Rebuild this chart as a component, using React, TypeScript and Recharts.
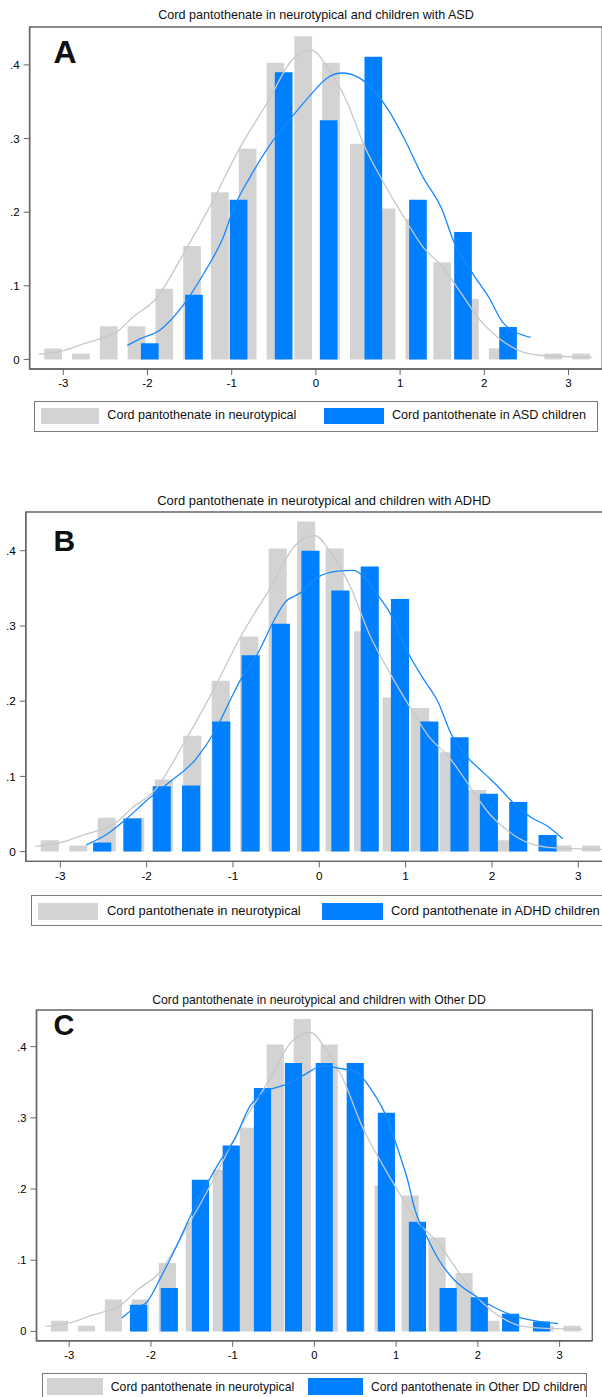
import React from "react";
import { Bar, ComposedChart, Line, ReferenceArea, XAxis, YAxis } from "recharts";

const FONT = '"Liberation Sans", Arial, Helvetica, sans-serif';
const GREY_BAR = "#d3d3d3";
const BLUE_BAR = "#0080ff";
const GREY_LINE = "#c8c8c8";
const BLUE_LINE = "#1689ff";
const FRAME = "#666666";

// neurotypical histogram + kernel density (same in all three panels)
const neuroBins = [-3.12, -2.79, -2.46, -2.13, -1.8, -1.47, -1.14, -0.81, -0.48, -0.15, 0.18, 0.51, 0.84, 1.17, 1.5, 1.83, 2.16, 2.49, 2.82, 3.15];
const neuroDensity = [0.015, 0.008, 0.045, 0.045, 0.096, 0.154, 0.227, 0.286, 0.403, 0.439, 0.403, 0.293, 0.205, 0.191, 0.132, 0.082, 0.015, 0, 0.008, 0.008];
const neuroKdeX = [-3.29, -3.0, -2.76, -2.57, -2.37, -2.17, -1.91, -1.56, -1.24, -0.92, -0.56, -0.28, -0.05, 0.13, 0.36, 0.58, 0.81, 1.04, 1.27, 1.5, 1.73, 1.95, 2.18, 2.46, 2.73, 3.28];
const neuroKdeY = [0.007, 0.012, 0.021, 0.028, 0.037, 0.058, 0.081, 0.146, 0.212, 0.284, 0.352, 0.407, 0.42, 0.398, 0.352, 0.289, 0.239, 0.194, 0.153, 0.126, 0.089, 0.053, 0.028, 0.01, 0.005, 0.003];

// ASD
const asdBins = [-1.97, -1.445, -0.915, -0.38, 0.155, 0.685, 1.215, 1.75, 2.285];
const asdDensity = [0.022, 0.088, 0.217, 0.39, 0.325, 0.411, 0.217, 0.173, 0.044];
const asdKdeX = [-2.24, -2.09, -1.85, -1.56, -1.33, -1.1, -0.97, -0.78, -0.56, -0.28, -0.05, 0.13, 0.31, 0.52, 0.68, 0.86, 1.04, 1.27, 1.5, 1.63, 1.86, 2.05, 2.23, 2.55];
const asdKdeY = [0.019, 0.028, 0.04, 0.076, 0.117, 0.166, 0.207, 0.248, 0.289, 0.33, 0.361, 0.382, 0.389, 0.382, 0.366, 0.339, 0.302, 0.248, 0.203, 0.162, 0.117, 0.085, 0.049, 0.03];

// ADHD
const adhdBins = [-2.52, -2.17, -1.83, -1.49, -1.14, -0.8, -0.45, -0.107, 0.24, 0.58, 0.93, 1.27, 1.62, 1.96, 2.3, 2.64];
const adhdDensity = [0.012, 0.044, 0.087, 0.088, 0.173, 0.261, 0.303, 0.4, 0.347, 0.379, 0.336, 0.173, 0.152, 0.077, 0.066, 0.022];
const adhdKdeX = [-2.7, -2.46, -2.23, -2.01, -1.74, -1.43, -1.21, -1.03, -0.89, -0.72, -0.54, -0.4, -0.22, 0.0, 0.22, 0.4, 0.49, 0.67, 0.83, 1.03, 1.21, 1.38, 1.52, 1.72, 1.92, 2.1, 2.28, 2.46, 2.64, 2.82];
const adhdKdeY = [0.009, 0.023, 0.044, 0.067, 0.092, 0.123, 0.16, 0.202, 0.233, 0.262, 0.304, 0.331, 0.344, 0.366, 0.373, 0.374, 0.368, 0.342, 0.315, 0.264, 0.229, 0.198, 0.158, 0.125, 0.103, 0.083, 0.061, 0.045, 0.034, 0.017];

// Other DD
const ddBins = [-2.155, -1.778, -1.397, -1.02, -0.638, -0.259, 0.118, 0.497, 0.878, 1.258, 1.634, 2.015, 2.398, 2.776];
const ddDensity = [0.0375, 0.061, 0.213, 0.261, 0.342, 0.377, 0.377, 0.377, 0.307, 0.154, 0.061, 0.048, 0.025, 0.014];
const ddKdeX = [-2.355, -2.2, -2.06, -1.875, -1.69, -1.5, -1.31, -1.145, -0.98, -0.79, -0.6, -0.37, -0.13, 0.1, 0.29, 0.53, 0.67, 0.86, 1.05, 1.14, 1.23, 1.375, 1.52, 1.705, 1.94, 2.18, 2.46, 2.74, 2.98];
const ddKdeY = [0.019, 0.033, 0.04, 0.077, 0.119, 0.166, 0.208, 0.241, 0.269, 0.316, 0.337, 0.346, 0.36, 0.373, 0.37, 0.363, 0.344, 0.307, 0.246, 0.213, 0.171, 0.133, 0.101, 0.073, 0.052, 0.035, 0.021, 0.014, 0.011];

const xTicks = [-3, -2, -1, 0, 1, 2, 3];
const yTicks = [0, 0.1, 0.2, 0.3, 0.4];
const yTickLabels = ["0", ".1", ".2", ".3", ".4"];

const X_DOMAIN: [number, number] = [-3.4, 3.4];
const Y_DOMAIN: [number, number] = [-0.013, 0.4515];

const toRows = (xs: number[], ys: number[]) => xs.map((x, i) => ({ x, y: ys[i] }));
const neuroRows = toRows(neuroBins, neuroDensity);
const neuroKde = toRows(neuroKdeX, neuroKdeY);

const W = 640;
const MT = 4;
const XH = 28;

function Txt({ x, base, size, children, bold, center }: any) {
  return (
    <div
      style={{
        position: "absolute",
        left: center ? x - 300 : x,
        width: center ? 600 : undefined,
        textAlign: center ? "center" : "left",
        top: base - 0.8465 * size,
        fontSize: size,
        lineHeight: `${size}px`,
        fontWeight: bold ? 700 : 400,
        whiteSpace: "nowrap",
        color: "#111",
      }}
    >
      {children}
    </div>
  );
}

function Panel(p: any) {
  const top = p.plotTop - MT;
  const height = p.plotBottom - top + XH;
  const unit = (p.plotRight - p.plotLeft) / (X_DOMAIN[1] - X_DOMAIN[0]);
  const s = unit / 84.2;
  const barW = 0.21 * unit;
  const mRight = W - p.plotRight;
  const baseMargin = { top: MT, right: mRight, bottom: 0, left: 0 };
  const overMargin = { top: MT, right: mRight, bottom: XH, left: p.plotLeft };
  const layer: React.CSSProperties = { position: "absolute", left: 0, top };
  const blueRows = toRows(p.bins, p.density);
  const blueKde = toRows(p.kdeX, p.kdeY);
  const tickStyle = { fill: "#000", fontSize: 11.5 * s, fontFamily: FONT };
  const lg = p.legend;
  const fs = 12.6 * s;

  return (
    <>
      <div style={layer}>
        <ComposedChart width={W} height={height} data={neuroRows} margin={baseMargin}>
          <XAxis
            type="number"
            dataKey="x"
            domain={X_DOMAIN}
            allowDataOverflow
            ticks={xTicks}
            height={XH}
            tickSize={6}
            tickMargin={4}
            tick={tickStyle}
            tickLine={{ stroke: FRAME }}
            axisLine={{ stroke: FRAME, strokeWidth: 1.4 }}
          />
          <YAxis
            type="number"
            domain={Y_DOMAIN}
            allowDataOverflow
            ticks={yTicks}
            tickFormatter={(v: number) => yTickLabels[yTicks.indexOf(v)]}
            width={p.plotLeft}
            tickSize={6}
            tickMargin={4}
            tick={tickStyle}
            tickLine={{ stroke: FRAME }}
            axisLine={{ stroke: FRAME, strokeWidth: 1.4 }}
          />
          <ReferenceArea
            x1={X_DOMAIN[0]}
            x2={X_DOMAIN[1]}
            y1={Y_DOMAIN[0]}
            y2={Y_DOMAIN[1]}
            fill="none"
            stroke={FRAME}
            strokeWidth={1.4}
            fillOpacity={0}
          />
          <Bar dataKey="y" fill={GREY_BAR} barSize={barW} isAnimationActive={false} />
        </ComposedChart>
      </div>
      <div style={layer}>
        <ComposedChart width={W} height={height} data={blueRows} margin={overMargin}>
          <XAxis type="number" dataKey="x" domain={X_DOMAIN} allowDataOverflow hide />
          <YAxis type="number" domain={Y_DOMAIN} allowDataOverflow hide />
          <Bar dataKey="y" fill={BLUE_BAR} barSize={barW} isAnimationActive={false} />
        </ComposedChart>
      </div>
      <div style={layer}>
        <ComposedChart width={W} height={height} margin={overMargin}>
          <XAxis type="number" dataKey="x" domain={X_DOMAIN} allowDataOverflow hide />
          <YAxis type="number" domain={Y_DOMAIN} allowDataOverflow hide />
          <Line data={neuroKde} dataKey="y" type="monotone" stroke={GREY_LINE} strokeWidth={1.3} dot={false} isAnimationActive={false} />
          <Line data={blueKde} dataKey="y" type="monotone" stroke={BLUE_LINE} strokeWidth={1.3} dot={false} isAnimationActive={false} />
        </ComposedChart>
      </div>

      <Txt x={p.titleX} base={p.titleBase} size={fs} center>
        {p.title}
      </Txt>
      <Txt x={53.5} base={p.letterBase} size={p.letterSize} bold>
        {p.letter}
      </Txt>

      <div
        style={{
          position: "absolute",
          left: lg.left,
          top: lg.top,
          width: lg.right - lg.left,
          height: lg.bottom - lg.top,
          border: "1.2px solid #7a7a7a",
          boxSizing: "border-box",
        }}
      />
      <div style={{ position: "absolute", left: lg.grey[0], top: lg.keyTop, width: lg.grey[1] - lg.grey[0], height: lg.keyBottom - lg.keyTop, background: GREY_BAR }} />
      <div style={{ position: "absolute", left: lg.blue[0], top: lg.keyTop, width: lg.blue[1] - lg.blue[0], height: lg.keyBottom - lg.keyTop, background: BLUE_BAR }} />
      <Txt x={lg.greyText} base={lg.textBase} size={fs}>
        Cord pantothenate in neurotypical
      </Txt>
      <Txt x={lg.blueText} base={lg.textBase} size={fs}>
        {p.blueLabel}
      </Txt>
    </>
  );
}

export default function App() {
  return (
    <div
      style={{
        position: "absolute",
        left: 0,
        top: 0,
        width: 602,
        height: 1397,
        overflow: "hidden",
        background: "#fff",
        fontFamily: FONT,
      }}
    >
      <Panel
        letter="A"
        letterBase={63.3}
        letterSize={32}
        title="Cord pantothenate in neurotypical and children with ASD"
        titleX={316}
        titleBase={20}
        plotLeft={29.6}
        plotTop={27}
        plotRight={602.2}
        plotBottom={369}
        bins={asdBins}
        density={asdDensity}
        kdeX={asdKdeX}
        kdeY={asdKdeY}
        blueLabel="Cord pantothenate in ASD children"
        legend={{ left: 33.5, top: 400.7, right: 598, bottom: 432, grey: [40.7, 99.3], blue: [324, 383.5], keyTop: 408.3, keyBottom: 424.3, textBase: 420, greyText: 107.3, blueText: 392 }}
      />
      <Panel
        letter="B"
        letterBase={551.7}
        letterSize={30}
        title="Cord pantothenate in neurotypical and children with ADHD"
        titleX={324}
        titleBase={506}
        plotLeft={25.8}
        plotTop={512.3}
        plotRight={612.8}
        plotBottom={861.7}
        bins={adhdBins}
        density={adhdDensity}
        kdeX={adhdKdeX}
        kdeY={adhdKdeY}
        blueLabel="Cord pantothenate in ADHD children"
        legend={{ left: 30.8, top: 895, right: 640, bottom: 926, grey: [37.7, 98], blue: [322, 383], keyTop: 902.7, keyBottom: 920, textBase: 916, greyText: 107, blueText: 391 }}
      />
      <Panel
        letter="C"
        letterBase={1035.5}
        letterSize={29}
        title="Cord pantothenate in neurotypical and children with Other DD"
        titleX={319}
        titleBase={1004}
        plotLeft={36.5}
        plotTop={1010}
        plotRight={592.3}
        plotBottom={1340.7}
        bins={ddBins}
        density={ddDensity}
        kdeX={ddKdeX}
        kdeY={ddKdeY}
        blueLabel="Cord pantothenate in Other DD children"
        legend={{ left: 41.5, top: 1372.7, right: 587.3, bottom: 1410, grey: [47, 103], blue: [307.7, 363.5], keyTop: 1378.3, keyBottom: 1395, textBase: 1391.7, greyText: 110.8, blueText: 371 }}
      />
    </div>
  );
}
